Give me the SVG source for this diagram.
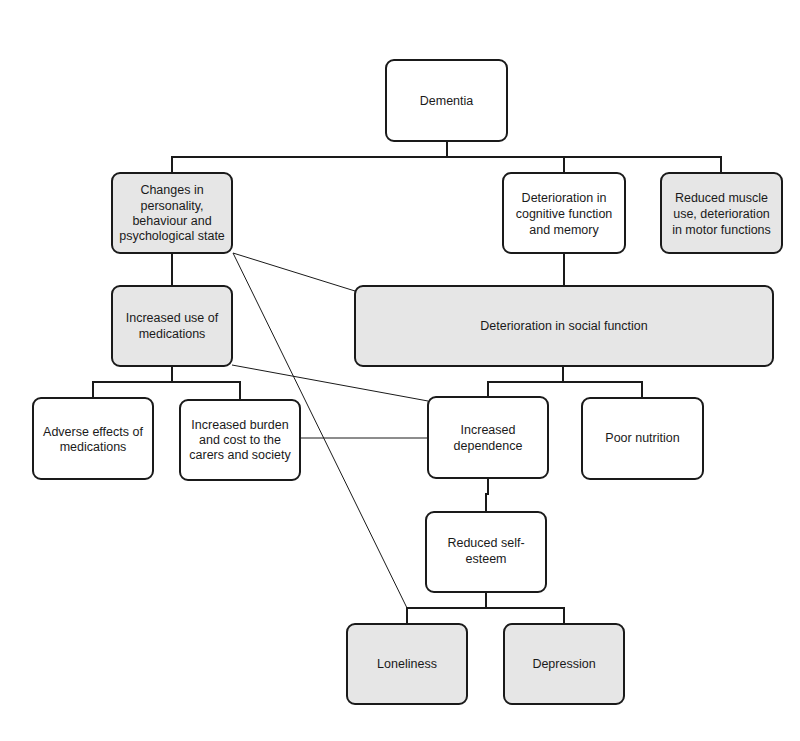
<svg xmlns="http://www.w3.org/2000/svg" width="800" height="741" viewBox="0 0 800 741">
<style>
.box{fill:#ffffff;stroke:#1a1a1a;stroke-width:2}
.grey{fill:#e6e6e6}
.t{font-family:"Liberation Sans",Arial,sans-serif;font-size:12.5px;fill:#1a1a1a;text-anchor:middle}
.c{fill:none;stroke:#1a1a1a;stroke-width:2}
.thin{fill:none;stroke:#1a1a1a;stroke-width:1}
</style>
<rect width="800" height="741" fill="#ffffff"/>
<g id="connectors">
<polyline class="c" points="447,141 447,157"/>
<polyline class="c" points="172,173 172,157 721,157 721,173"/>
<polyline class="c" points="564,157 564,173"/>
<polyline class="c" points="172,253 172,286"/>
<polyline class="c" points="564,253 564,286"/>
<polyline class="c" points="172,366 172,382"/>
<polyline class="c" points="93,398 93,382 240,382 240,400"/>
<polyline class="c" points="563,366 563,382"/>
<polyline class="c" points="488,397 488,382 642,382 642,398"/>
<polyline class="c" points="488,478 488,494 486,494 486,512"/>
<polyline class="c" points="486,592 486,608"/>
<polyline class="c" points="407,624 407,608 564,608 564,624"/>
<line class="thin" x1="233" y1="253" x2="355" y2="291"/>
<line class="thin" x1="233" y1="253" x2="407" y2="608"/>
<line class="thin" x1="232" y1="365" x2="428" y2="401"/>
<line class="thin" x1="300" y1="438" x2="428" y2="438"/>
</g>
<g id="dementia">
<rect class="box" x="386" y="60" width="121" height="81" rx="8"/>
<text class="t" x="446.5" y="105">Dementia</text>
</g>
<g id="changes">
<rect class="box grey" x="112" y="173" width="120" height="80" rx="8"/>
<text class="t" x="172" y="194">Changes in</text>
<text class="t" x="172" y="210">personality,</text>
<text class="t" x="172" y="225">behaviour and</text>
<text class="t" x="172" y="240">psychological state</text>
</g>
<g id="cognitive">
<rect class="box" x="503" y="173" width="122" height="80" rx="8"/>
<text class="t" x="564" y="202">Deterioration in</text>
<text class="t" x="564" y="218">cognitive function</text>
<text class="t" x="564" y="234">and memory</text>
</g>
<g id="muscle">
<rect class="box grey" x="661" y="173" width="121" height="80" rx="8"/>
<text class="t" x="721.5" y="202">Reduced muscle</text>
<text class="t" x="721.5" y="218">use, deterioration</text>
<text class="t" x="721.5" y="234">in motor functions</text>
</g>
<g id="medications">
<rect class="box grey" x="112" y="286" width="120" height="80" rx="8"/>
<text class="t" x="172" y="322">Increased use of</text>
<text class="t" x="172" y="338">medications</text>
</g>
<g id="social">
<rect class="box grey" x="355" y="286" width="418" height="80" rx="8"/>
<text class="t" x="564" y="330">Deterioration in social function</text>
</g>
<g id="adverse">
<rect class="box" x="33" y="398" width="120" height="81" rx="8"/>
<text class="t" x="93" y="436">Adverse effects of</text>
<text class="t" x="93" y="451">medications</text>
</g>
<g id="burden">
<rect class="box" x="180" y="400" width="120" height="80" rx="8"/>
<text class="t" x="240" y="429">Increased burden</text>
<text class="t" x="240" y="444">and cost to the</text>
<text class="t" x="240" y="459">carers and society</text>
</g>
<g id="dependence">
<rect class="box" x="428" y="397" width="120" height="81" rx="8"/>
<text class="t" x="488" y="434">Increased</text>
<text class="t" x="488" y="450">dependence</text>
</g>
<g id="nutrition">
<rect class="box" x="582" y="398" width="121" height="81" rx="8"/>
<text class="t" x="642.5" y="442">Poor nutrition</text>
</g>
<g id="selfesteem">
<rect class="box" x="426" y="512" width="120" height="80" rx="8"/>
<text class="t" x="486" y="547">Reduced self-</text>
<text class="t" x="486" y="563">esteem</text>
</g>
<g id="loneliness">
<rect class="box grey" x="347" y="624" width="120" height="80" rx="8"/>
<text class="t" x="407" y="668">Loneliness</text>
</g>
<g id="depression">
<rect class="box grey" x="504" y="624" width="120" height="80" rx="8"/>
<text class="t" x="564" y="668">Depression</text>
</g>
</svg>
